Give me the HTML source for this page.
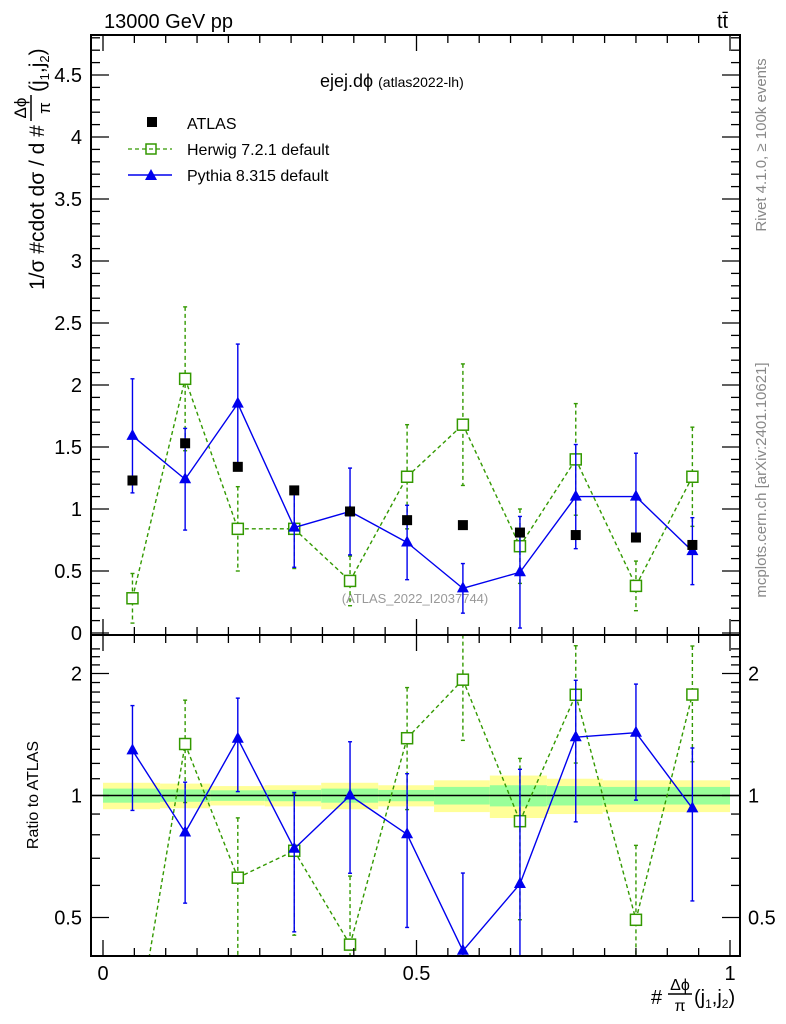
<!DOCTYPE html>
<html><head><meta charset="utf-8">
<style>
body{margin:0;background:#fff;overflow:hidden;}
svg{display:block;font-family:"Liberation Sans",sans-serif;}
</style></head>
<body>
<svg id="c" width="786" height="1024" viewBox="0 0 786 1024">
<text x="104" y="28" font-size="20">13000 GeV pp</text>
<text x="717" y="28" font-size="20">tt̄</text>
<text transform="translate(766,145) rotate(-90)" text-anchor="middle" font-size="15" fill="#888">Rivet 4.1.0, ≥ 100k events</text>
<text transform="translate(766,480) rotate(-90)" text-anchor="middle" font-size="15" fill="#888">mcplots.cern.ch [arXiv:2401.10621]</text>
<text x="320" y="87" font-size="18">ejej.dϕ <tspan font-size="14">(atlas2022-lh)</tspan></text>
<text x="415" y="603" text-anchor="middle" font-size="13" fill="#999">(ATLAS_2022_I2037744)</text>
<g>
<text transform="translate(44,290) rotate(-90)" font-size="21">1/σ #cdot dσ / d #</text>
<text transform="translate(26,108) rotate(-90)" text-anchor="middle" font-size="17">Δϕ</text>
<line x1="31" y1="95" x2="31" y2="121" stroke="#000" stroke-width="1.5"/>
<text transform="translate(50,108) rotate(-90)" text-anchor="middle" font-size="17">π</text>
<text transform="translate(44,92) rotate(-90)" font-size="21">(j<tspan font-size="13" dy="5">1</tspan><tspan dy="-5">,j</tspan><tspan font-size="13" dy="5">2</tspan><tspan dy="-5">)</tspan></text>
</g>
<text transform="translate(38,795) rotate(-90)" text-anchor="middle" font-size="16">Ratio to ATLAS</text>
<g>
<text x="651" y="1004" font-size="20">#</text>
<text x="680" y="990" text-anchor="middle" font-size="16">Δϕ</text>
<line x1="668" y1="994" x2="692" y2="994" stroke="#000" stroke-width="1.5"/>
<text x="680" y="1011" text-anchor="middle" font-size="16">π</text>
<text x="694" y="1004" font-size="20">(j<tspan font-size="12" dy="4">1</tspan><tspan dy="-4">,j</tspan><tspan font-size="12" dy="4">2</tspan><tspan dy="-4">)</tspan></text>
</g>
<g id="legend">
<rect x="147" y="117" width="10" height="10" fill="#000"/>
<text x="187" y="129" font-size="16">ATLAS</text>
<line x1="128" y1="149" x2="172" y2="149" stroke="#339900" stroke-dasharray="4,3" stroke-width="1.3"/>
<rect x="146" y="144" width="10" height="10" fill="none" stroke="#339900" stroke-width="1.5"/>
<text x="187" y="155" font-size="16">Herwig 7.2.1 default</text>
<line x1="128" y1="175" x2="172" y2="175" stroke="#0000ee" stroke-width="1.5"/>
<polygon points="151,169 157,180 145,180" fill="#0000ee"/>
<text x="187" y="181" font-size="16">Pythia 8.315 default</text>
</g>
</svg>
<script>
const binEdges=[0,0.091,0.171,0.258,0.348,0.439,0.528,0.617,0.708,0.797,0.898,1];
const binCenters=[0.047,0.131,0.215,0.305,0.394,0.485,0.574,0.665,0.754,0.85,0.94];
const atlasVals=[1.23,1.53,1.34,1.15,0.98,0.91,0.87,0.81,0.79,0.77,0.71];
const herwigVals=[0.28,2.05,0.84,0.84,0.42,1.26,1.68,0.70,1.40,0.38,1.26];
const herwigErr=[0.2,0.58,0.34,0.32,0.2,0.42,0.49,0.3,0.45,0.2,0.4];
const pythiaVals=[1.59,1.24,1.85,0.85,0.98,0.73,0.36,0.49,1.10,1.10,0.66];
const pythiaErr=[0.46,0.41,0.48,0.32,0.35,0.3,0.2,0.45,0.42,0.35,0.27];
const bandYellow=[0.075,0.07,0.055,0.06,0.075,0.06,0.09,0.12,0.1,0.09,0.09];
const bandGreen=[0.04,0.035,0.03,0.032,0.04,0.032,0.05,0.06,0.055,0.05,0.05];
const yTicks=[0,0.5,1,1.5,2,2.5,3,3.5,4,4.5];
const rTicks=[0.5,1,2];
const xTicks=[0,0.5,1];

const NS="http://www.w3.org/2000/svg";
const svg=document.getElementById('c');
const L=91,R=740,T1=35,B1=635,T2=635,B2=956;
const X=v=>103+627*v;
const Y=v=>633-124*v;
const YR=r=>795.5-122*Math.log2(r);
function mk(tag,attrs,parent){const e=document.createElementNS(NS,tag);for(const k in attrs)e.setAttribute(k,attrs[k]);(parent||svg).appendChild(e);return e;}
const defs=mk('defs',{});
const c1=mk('clipPath',{id:'cl1'},defs);mk('rect',{x:L,y:T1,width:R-L,height:B1-T1},c1);
const c2=mk('clipPath',{id:'cl2'},defs);mk('rect',{x:L,y:T2,width:R-L,height:B2-T2},c2);
const g1=mk('g',{'clip-path':'url(#cl1)'});


const g2=mk('g',{'clip-path':'url(#cl2)'});



for(let i=0;i<binCenters.length;i++){
 const x0=X(binEdges[i]),x1=X(binEdges[i+1]);
 const y=mk('rect',{x:x0,y:YR(1+bandYellow[i]),width:x1-x0,height:YR(1-bandYellow[i])-YR(1+bandYellow[i]),fill:'#ffff99'},g2);
 
 
 const g=mk('rect',{x:x0,y:YR(1+bandGreen[i]),width:x1-x0,height:YR(1-bandGreen[i])-YR(1+bandGreen[i]),fill:'#99ff99'},g2);
 
 
}
mk('line',{x1:L,x2:R,y1:YR(1),y2:YR(1),stroke:'#000','stroke-width':1.5},g2);

function series(g,vals,errLo,errHi,yf,color,dash,marker,name,top,bot){
 const cl=y=>Math.min(Math.max(y,top-8),bot+8);
 // clip connecting line segments to frame vertically
 const P=binCenters.map((c,i)=>[X(c),yf(vals[i])]);
 let segs=[];
 for(let i=0;i<P.length-1;i++){
  let [xa,ya]=P[i],[xb,yb]=P[i+1];
  const lim=bot+2;
  if(ya>lim&&yb>lim)continue;
  if(ya>lim){const t=(lim-ya)/(yb-ya);xa=xa+t*(xb-xa);ya=lim;}
  if(yb>lim){const t=(lim-ya)/(yb-ya);xb=xa+t*(xb-xa);yb=lim;}
  segs.push(`M${xa},${ya}L${xb},${yb}`);
 }
 const pl=mk('path',{d:segs.join(''),fill:'none',stroke:color,'stroke-width':1.4,'stroke-dasharray':dash||'none'},g);
 
 
 binCenters.forEach((c,i)=>{
  const x=X(c),yt=cl(yf(errHi[i])),yb=cl(yf(Math.max(errLo[i],1e-3)));
  const e=mk('line',{x1:x,x2:x,y1:yt,y2:yb,stroke:color,'stroke-width':1.4,'stroke-dasharray':dash||'none'},g);
  
  
  mk('line',{x1:x-2,x2:x+2,y1:yt,y2:yt,stroke:color,'stroke-width':1.4},g);
  mk('line',{x1:x-2,x2:x+2,y1:yb,y2:yb,stroke:color,'stroke-width':1.4},g);
  const y=yf(vals[i]);
  if(y>bot+8)return;
  let m;
  if(marker==='open')m=mk('rect',{x:x-5.5,y:y-5.5,width:11,height:11,fill:'#fff',stroke:color,'stroke-width':1.5},g);
  else m=mk('polygon',{points:`${x},${y-7} ${x+6},${y+4} ${x-6},${y+4}`,fill:color},g);
  
  
 });
}
series(g1,herwigVals,herwigVals.map((v,i)=>v-herwigErr[i]),herwigVals.map((v,i)=>v+herwigErr[i]),Y,'#339900','4,3','open','herwig',T1,B1);
series(g1,pythiaVals,pythiaVals.map((v,i)=>v-pythiaErr[i]),pythiaVals.map((v,i)=>v+pythiaErr[i]),Y,'#0000ee',null,'tri','pythia',T1,B1);
binCenters.forEach((c,i)=>{
 const m=mk('rect',{x:X(c)-5,y:Y(atlasVals[i])-5,width:10,height:10,fill:'#000'},g1);
 
 
});
const herwigRatio=herwigVals.map((v,i)=>v/atlasVals[i]);
const pythiaRatio=pythiaVals.map((v,i)=>v/atlasVals[i]);
const hrE=herwigErr.map((e,i)=>e/atlasVals[i]);
const prE=pythiaErr.map((e,i)=>e/atlasVals[i]);
series(g2,herwigRatio,herwigRatio.map((v,i)=>v-hrE[i]),herwigRatio.map((v,i)=>v+hrE[i]),YR,'#339900','4,3','open','herwig-ratio',T2,B2);
series(g2,pythiaRatio,pythiaRatio.map((v,i)=>v-prE[i]),pythiaRatio.map((v,i)=>v+prE[i]),YR,'#0000ee',null,'tri','pythia-ratio',T2,B2);

const f1=mk('rect',{x:L,y:T1,width:R-L,height:B1-T1,fill:'none',stroke:'#000','stroke-width':2});

const f2=mk('rect',{x:L,y:T2,width:R-L,height:B2-T2,fill:'none',stroke:'#000','stroke-width':2});


for(let k=0;k<=20;k++){
 const v=k*0.05,x=X(v),maj=(k%10===0),len=maj?16:8;
 [[T1,1],[B1,-1],[T2,1],[B2,-1]].forEach(([y,d])=>mk('line',{x1:x,x2:x,y1:y,y2:y+d*len,stroke:'#000','stroke-width':1.3}));
}
xTicks.forEach(v=>{const t=mk('text',{x:X(v),y:980,'text-anchor':'middle','font-size':20});t.textContent=String(v);
 });
for(let k=0;k<=48;k++){
 const v=k*0.1,y=Y(v);if(y<T1)break;const maj=(k%5===0),len=maj?18:9;
 mk('line',{x1:L,x2:L+len,y1:y,y2:y,stroke:'#000','stroke-width':1.3});
 mk('line',{x1:R,x2:R-len,y1:y,y2:y,stroke:'#000','stroke-width':1.3});
}
yTicks.forEach(v=>{const t=mk('text',{x:82,y:Y(v)+7,'text-anchor':'end','font-size':20});t.textContent=String(v);
 });
for(let r=0.4;r<=2.31;r+=0.1){
 const y=YR(r);if(y<T2||y>B2)continue;
 const maj=[0.5,1,2].some(m=>Math.abs(m-r)<1e-6),len=maj?18:9;
 mk('line',{x1:L,x2:L+len,y1:y,y2:y,stroke:'#000','stroke-width':1.3});
 mk('line',{x1:R,x2:R-len,y1:y,y2:y,stroke:'#000','stroke-width':1.3});
}
rTicks.forEach(v=>{
 const t=mk('text',{x:82,y:YR(v)+7,'text-anchor':'end','font-size':20});t.textContent=String(v);
 
 const t2=mk('text',{x:748,y:YR(v)+7,'font-size':20});t2.textContent=String(v);
 
});
</script>
</body></html>
